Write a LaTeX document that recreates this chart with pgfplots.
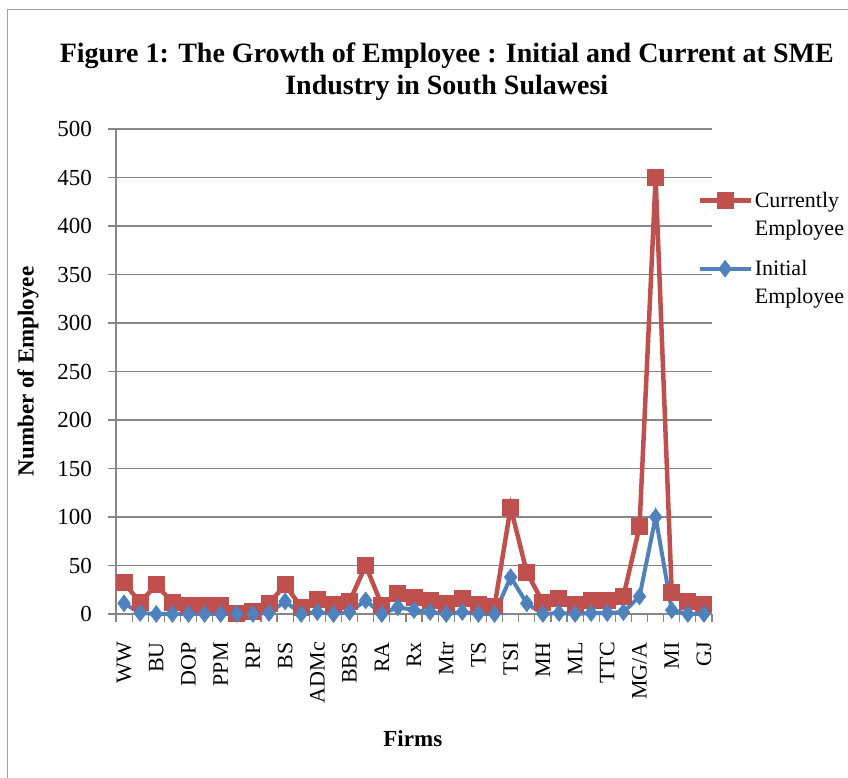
\documentclass[border=0pt]{standalone}
\usepackage{pgfplots}
\pgfplotsset{compat=1.18}
\usepackage{fontspec}
\setmainfont{Liberation Serif}
\definecolor{cred}{RGB}{192,80,77}
\definecolor{cblue}{RGB}{79,129,189}
\definecolor{cgrid}{RGB}{134,134,134}
\definecolor{cframe}{RGB}{160,160,160}
\begin{document}
\begin{tikzpicture}[x=1pt,y=1pt]
\useasboundingbox (0,0) rectangle (848,778);
\draw[cframe, line width=1.5pt] (7.5,-20) -- (7.5,768.5) -- (900,768.5);
\begin{axis}[
  at={(116pt,164pt)}, anchor=south west,
  scale only axis, width=596pt, height=485pt,
  xmin=-0.5, xmax=36.5, ymin=0, ymax=500,
  axis x line*=bottom, axis y line*=left,
  axis line style={cgrid, line width=1.2pt},
  ytick={0,50,...,500},
  ymajorgrids, major grid style={cgrid, line width=1.2pt},
  tick style={cgrid, line width=1.2pt},
  tick align=outside, major tick length=8pt,
  xtick={-0.5,0.5,...,36.5}, xticklabels={},
  extra x ticks={0,2,...,36},
  extra x tick labels={WW,BU,DOP,PPM,RP,BS,ADMc,BBS,RA,Rx,Mtr,TS,TSI,MH,ML,TTC,MG/A,MI,GJ},
  extra x tick style={major tick length=0pt, grid=none},
  xticklabel style={yshift=-28pt, rotate=90, anchor=east, inner sep=0pt, font=\fontsize{22}{26}\selectfont},
  yticklabel style={anchor=east, inner sep=0pt, xshift=-16pt, font=\fontsize{23}{27}\selectfont},
  /pgf/number format/assume math mode=true,
  ylabel={\textbf{Number of Employee}},
  ylabel style={at={(axis description cs:-0.1477,0.5)}, anchor=center, font=\fontsize{23}{27}\selectfont},
  xlabel={\textbf{Firms}},
  xlabel style={at={(axis description cs:0.498,-0.2577)}, anchor=center, font=\fontsize{23}{27}\selectfont},
  title={\textbf{Figure 1: The Growth of Employee : Initial and Current at SME}\\\textbf{Industry in South Sulawesi}},
  title style={at={(axis description cs:0.555,1.0464)}, anchor=south, align=center, inner sep=0pt, font=\fontsize{28}{32}\selectfont},
  legend style={at={(rel axis cs:0.975,0.874)}, anchor=north west, draw=none, fill=none, inner sep=0pt,
    font=\fontsize{22}{27}\selectfont, cells={anchor=west, inner xsep=1.5pt}, row sep=7pt},
  legend image code/.code={\draw[mark repeat=2,mark phase=2,#1] plot coordinates {(0pt,0pt) (25.5pt,0pt) (51pt,0pt)};},
  clip=false,
]
\addplot[cred, line width=4.5pt, mark=square*, mark size=8pt, mark options={solid, line width=1pt}] coordinates {
(0,32) (1,12) (2,30) (3,12) (4,9) (5,9) (6,9) (7,1) (8,3) (9,11) (10,30) (11,7) (12,15) (13,10) (14,13) (15,50) (16,9) (17,21) (18,17) (19,14) (20,11) (21,16) (22,10) (23,8) (24,110) (25,43) (26,12) (27,16) (28,10) (29,14) (30,14) (31,18) (32,90) (33,450) (34,22) (35,13) (36,10)};
\addlegendentry{Currently}
\addlegendimage{empty legend}
\addlegendentry{Employee}
\addlegendimage{empty legend}
\addlegendentry{\mbox{}}
\addplot[cblue, line width=4pt, mark=diamond*, mark size=8.5pt, mark options={solid, line width=0.5pt}] coordinates {
(0,11) (1,1) (2,0) (3,0) (4,0) (5,0) (6,0) (7,0) (8,0) (9,1) (10,13) (11,0) (12,2) (13,0) (14,2) (15,14) (16,0) (17,7) (18,4) (19,2) (20,0) (21,2) (22,0) (23,0) (24,38) (25,11) (26,0) (27,1) (28,0) (29,1) (30,1) (31,2) (32,18) (33,100) (34,4) (35,0) (36,0)};
\addlegendentry{Initial}
\addlegendimage{empty legend}
\addlegendentry{Employee}
\end{axis}
\end{tikzpicture}
\end{document}
